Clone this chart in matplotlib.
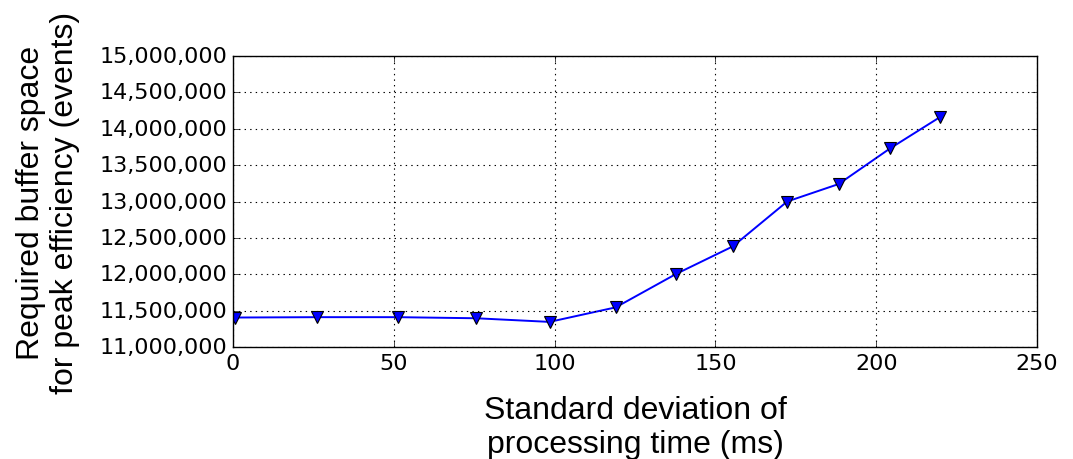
import matplotlib
matplotlib.use("Agg")
import matplotlib.pyplot as plt
from matplotlib.ticker import StrMethodFormatter

# std deviation of processing time (ms) vs. required buffer (events)
std_dev = [0.6, 26.2, 51.2, 75.6, 98.4, 119.0, 137.8, 155.4, 172.3, 188.3, 204.3, 219.8]
buffer_space = [11405000, 11410000, 11410000, 11395000, 11345000, 11545000,
                12005000, 12383000, 13000000, 13240000, 13730000, 14160000]

plt.style.use("classic")

fig = plt.figure(figsize=(10.73, 4.6), dpi=100)
ax = fig.add_axes([0.2172, 0.2435, 0.7493, 0.6325])

ax.plot(std_dev, buffer_space, color="b", linewidth=1.4, marker="v",
        markersize=9, markerfacecolor="b", markeredgecolor="k", markeredgewidth=0.8)

ax.set_xlim(0, 250)
ax.set_ylim(11000000, 15000000)
ax.set_yticks(range(11000000, 15000001, 500000))
ax.yaxis.set_major_formatter(StrMethodFormatter("{x:,.0f}"))
ax.tick_params(labelsize=16)
ax.grid(True, linestyle=":", color="k", linewidth=0.8)

label_font = {"family": "Liberation Sans", "size": 23}
ax.set_xlabel("Standard deviation of\nprocessing time (ms)", fontdict=label_font, labelpad=16)
ax.set_ylabel("Required buffer space\nfor peak efficiency (events)", fontdict=label_font, labelpad=14)

fig.savefig("out.png", dpi=100)
